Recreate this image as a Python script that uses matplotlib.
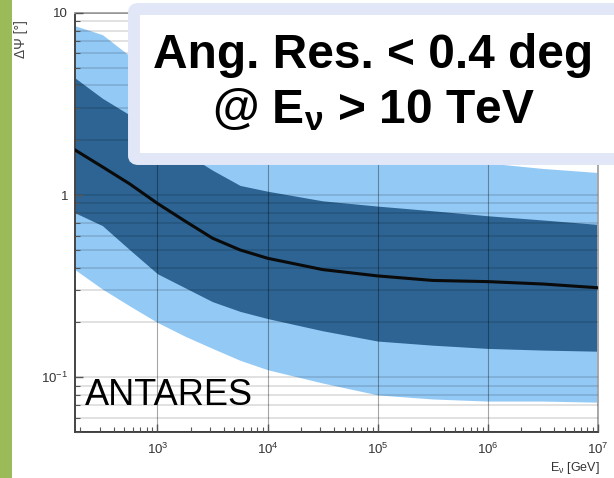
import matplotlib
matplotlib.use('Agg')
import matplotlib.pyplot as plt
from matplotlib.patches import FancyBboxPatch, Rectangle
from matplotlib.ticker import LogLocator, NullFormatter

plt.rcParams['font.family'] = ['Liberation Sans', 'DejaVu Sans']
plt.rcParams['mathtext.fontset'] = 'custom'
plt.rcParams['mathtext.rm'] = 'Liberation Sans'
plt.rcParams['mathtext.it'] = 'Liberation Sans:italic'
plt.rcParams['mathtext.bf'] = 'Liberation Sans:bold'

# neutrino energy [GeV] and angular resolution bands [deg]
energy = [178, 316, 562, 1e3, 1.78e3, 3.16e3, 5.62e3, 1e4, 3.16e4, 1e5, 3.16e5, 1e6, 3.16e6, 1e7]
median = [1.77, 1.43, 1.15, 0.90, 0.72, 0.58, 0.50, 0.45, 0.39, 0.36, 0.34, 0.335, 0.325, 0.31]
dark_lo = [0.80, 0.68, 0.50, 0.37, 0.31, 0.26, 0.23, 0.21, 0.18, 0.158, 0.150, 0.144, 0.141, 0.139]
dark_hi = [4.4, 3.4, 2.75, 2.2, 1.7, 1.37, 1.13, 1.05, 0.93, 0.87, 0.82, 0.77, 0.73, 0.69]
light_lo = [0.39, 0.305, 0.246, 0.20, 0.168, 0.144, 0.124, 0.11, 0.093, 0.080, 0.076, 0.074, 0.074, 0.073]
light_hi = [8.5, 7.6, 5.8, 4.5, 3.6, 3.0, 2.6, 2.3, 1.95, 1.75, 1.6, 1.5, 1.4, 1.33]

fig = plt.figure(figsize=(6.14, 4.78), dpi=100)
fig.patches.append(Rectangle((0, 0), 12 / 614, 1, transform=fig.transFigure,
                             fc='#9BBB59', ec='none', zorder=0))

ax = fig.add_axes([0.122, 0.096, 0.852, 0.877])
ax.fill_between(energy, light_lo, light_hi, color='#93C9F5', lw=0, zorder=1)
ax.fill_between(energy, dark_lo, dark_hi, color='#2D6493', lw=0, zorder=1.1)
ax.plot(energy, median, color='#0a0a0a', lw=2.2, zorder=3)

ax.set_xscale('log')
ax.set_yscale('log')
ax.set_xlim(178, 1e7)
ax.set_ylim(0.05, 10)

ax.set_yticks([0.1, 1, 10])
ax.set_yticklabels([r'$\mathregular{10^{-1}}$', '1', '10'])
ax.yaxis.set_minor_locator(LogLocator(base=10, subs=range(2, 10)))
ax.yaxis.set_minor_formatter(NullFormatter())
ax.xaxis.set_minor_locator(LogLocator(base=10, subs=range(2, 10)))
ax.xaxis.set_minor_formatter(NullFormatter())

ax.set_axisbelow(False)
ax.grid(which='both', axis='y', color='k', alpha=0.13, lw=1.3)
ax.grid(which='major', axis='x', color='k', alpha=0.35, lw=0.8)

ax.tick_params(which='both', direction='in', colors='#555', labelcolor='#333',
               labelsize=9.5)
ax.tick_params(which='major', length=6, width=1)
ax.tick_params(which='minor', length=3.5, width=0.8)
ax.tick_params(axis='x', pad=7)
ax.tick_params(axis='y', pad=5)
for side in ['left', 'bottom']:
    ax.spines[side].set_color('#444')
    ax.spines[side].set_linewidth(1.4)
for side in ['top', 'right']:
    ax.spines[side].set_color('#aaa')
    ax.spines[side].set_linewidth(1.4)

fig.text(21 / 614, 1 - 39 / 478, 'ΔΨ [°]', rotation=90, ha='center', va='center',
         fontsize=10, color='#444')
fig.text(600 / 614, 1 - 468 / 478, 'E$_\\mathregular{ν}$ [GeV]', ha='right', va='center',
         fontsize=9, color='#333')

fig.text(85 / 614, 1 - 405 / 478, 'ANTARES', fontsize=26, va='baseline', color='black')

box = FancyBboxPatch((134 / 614, 1 - 159 / 478), (630 - 134) / 614, (159 - 9) / 478,
                     boxstyle='round,pad=0,rounding_size=0.007', transform=fig.transFigure,
                     fc='white', ec='#E2E7F8', lw=8.6, clip_on=False, zorder=5)
fig.patches.append(box)
fig.text(373 / 614, 1 - 68 / 478, 'Ang. Res. < 0.4 deg', ha='center', va='baseline',
         fontsize=34.5, fontweight='bold', zorder=6)
fig.text(373 / 614, 1 - 123 / 478, '@ E$_\\mathbf{ν}$ > 10 TeV', ha='center', va='baseline',
         fontsize=34.5, fontweight='bold', zorder=6)

fig.savefig('out.png', dpi=100)
